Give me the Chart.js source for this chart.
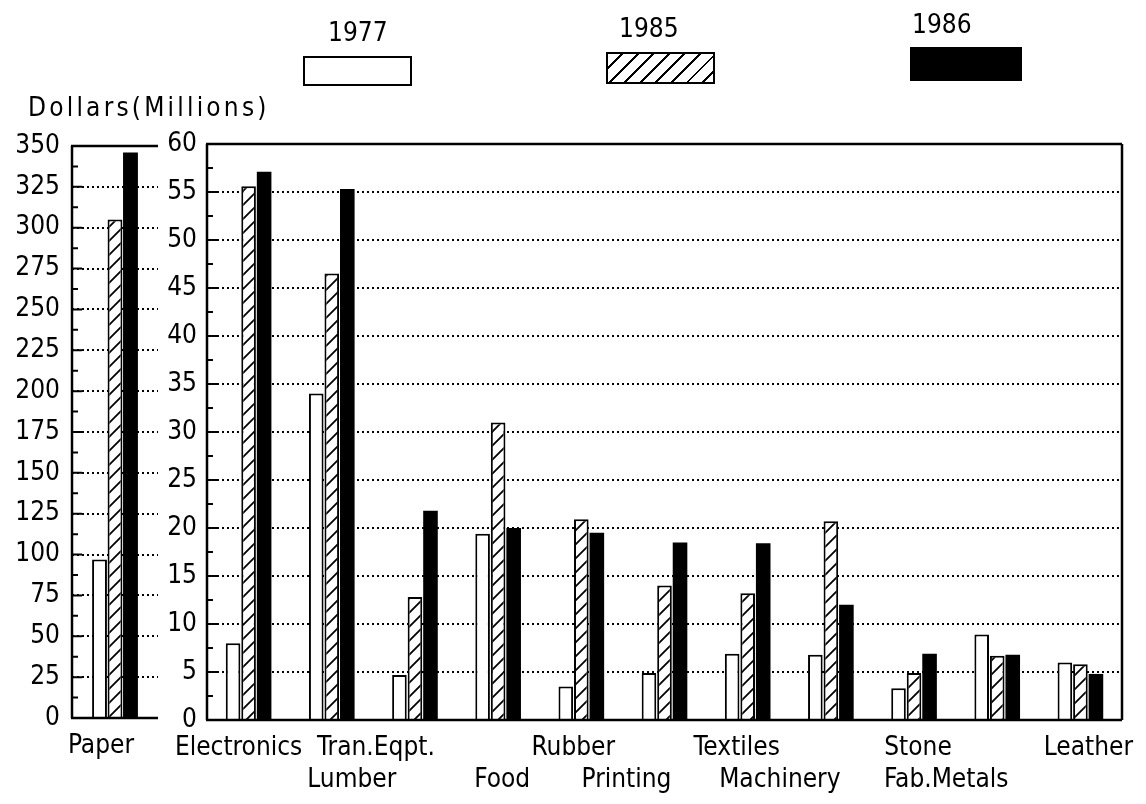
<!DOCTYPE html>
<html>
<head>
<meta charset="utf-8">
<script src="https://cdn.jsdelivr.net/npm/chart.js@4.4.0/dist/chart.umd.min.js"></script>
<style>
  body { margin: 0; background: #fff; }
  #wrap { position: relative; width: 1146px; height: 804px; font-family: "DejaVu Sans Condensed", "DejaVu Sans", sans-serif; color: #000; }
  canvas { position: absolute; left: 0; top: 0; }
  .txt { position: absolute; font-size: 26px; line-height: 30px; white-space: nowrap; }
  .box { position: absolute; border: 2px solid #000; box-sizing: border-box; background: #fff; }
</style>
</head>
<body>
<div id="wrap">
  <canvas id="paperChart" width="1146" height="804"></canvas>
  <canvas id="mainChart" width="1146" height="804"></canvas>

  <div class="txt" style="left:328px;top:17px">1977</div>
  <div class="box" style="left:303px;top:56px;width:109px;height:30px"></div>
  <div class="txt" style="left:619px;top:13px">1985</div>
  <div class="box" style="left:606px;top:52px;width:109px;height:32px;background:repeating-linear-gradient(135deg,#fff 0 9px,#000 9px 11px)"></div>
  <div class="txt" style="left:912px;top:9px">1986</div>
  <div class="box" style="left:910px;top:47px;width:112px;height:34px;background:#000"></div>

  <div class="txt" style="left:28px;top:92px;letter-spacing:3.2px">Dollars(Millions)</div>
</div>

<script>
// values, millions of dollars
const years = ['1977', '1985', '1986'];

const paperLabel = ['Paper'];
const paper1977 = [97];
const paper1985 = [305];
const paper1986 = [346];
const paperMax = 350;
const paperStep = 25;

const industries = ['Electronics', 'Lumber', 'Tran.Eqpt.', 'Food', 'Rubber', 'Printing',
                    'Textiles', 'Machinery', 'Stone', 'Fab.Metals', 'Leather'];
const v1977 = [8.0, 34.0, 4.7, 19.4, 3.5, 4.9, 6.9, 6.8, 3.3, 8.9, 6.0];
const v1985 = [55.6, 46.5, 12.8, 31.0, 20.9, 14.0, 13.2, 20.7, 4.9, 6.7, 5.8];
const v1986 = [57.1, 55.3, 21.8, 20.0, 19.5, 18.5, 18.4, 12.0, 6.9, 6.8, 4.8];
const mainMax = 60;
const mainStep = 5;

const FONT = '"DejaVu Sans Condensed", "DejaVu Sans", sans-serif';

function hatchPattern() {
    const c = document.createElement('canvas');
    c.width = 14; c.height = 14;
    const g = c.getContext('2d');
    g.fillStyle = '#fff';
    g.fillRect(0, 0, 14, 14);
    g.strokeStyle = '#000';
    g.lineWidth = 1.8;
    g.beginPath();
    g.moveTo(0, 14); g.lineTo(14, 0);
    g.moveTo(-2, 2); g.lineTo(2, -2);
    g.moveTo(12, 16); g.lineTo(16, 12);
    g.stroke();
    return g.createPattern(c, 'repeat');
}
const hatch = hatchPattern();

function makeSets(a, b, c) {
    return [
        { label: years[0], data: a, backgroundColor: '#fff', borderColor: '#000', borderWidth: 2 },
        { label: years[1], data: b, backgroundColor: hatch, borderColor: '#000', borderWidth: 2 },
        { label: years[2], data: c, backgroundColor: '#000', borderColor: '#000', borderWidth: 0 }
    ];
}

// frame, small inner ticks and the category names under the axis
function framePlugin(sides, names, nudges, step) {
    return {
        id: 'frame',
        afterDraw(chart) {
            const ctx = chart.ctx;
            const a = chart.chartArea;
            const ys = chart.scales.y;
            const xs = chart.scales.x;
            ctx.save();
            ctx.strokeStyle = '#000';
            ctx.lineWidth = 2.5;
            ctx.beginPath();
            ctx.moveTo(a.left, a.top); ctx.lineTo(a.left, a.bottom);
            ctx.moveTo(a.left - 1, a.top); ctx.lineTo(a.right, a.top);
            ctx.moveTo(a.left - 1, a.bottom); ctx.lineTo(a.right, a.bottom);
            if (sides.right) { ctx.moveTo(a.right, a.top); ctx.lineTo(a.right, a.bottom); }
            ctx.stroke();

            ctx.lineWidth = 2;
            ctx.beginPath();
            for (let v = step / 2; v < ys.max; v += step) {
                const y = ys.getPixelForValue(v);
                ctx.moveTo(a.left, y); ctx.lineTo(a.left + 6, y);
            }
            for (let v = step; v < ys.max; v += step) {
                const y = ys.getPixelForValue(v);
                ctx.moveTo(a.left, y); ctx.lineTo(a.left + 10, y);
            }
            ctx.stroke();

            ctx.fillStyle = '#000';
            ctx.font = '26px ' + FONT;
            ctx.textAlign = 'center';
            ctx.textBaseline = 'middle';
            names.forEach((name, i) => {
                const x = xs.getPixelForValue(i) + nudges[i];
                const y = a.bottom + (i % 2 ? 60 : 28);
                ctx.fillText(name, x, y);
            });
            ctx.restore();
        }
    };
}

function yScale(max, step, width, pad) {
    return {
        min: 0, max: max,
        afterFit(s) { s.width = width; },
        ticks: { stepSize: step, color: '#000', padding: pad, font: { family: FONT, size: 26 } },
        grid: { color: '#000', lineWidth: 2, drawTicks: false },
        border: { display: false, dash: [2, 3] }
    };
}

function xScale() {
    return {
        afterFit(s) { s.height = 84; },
        ticks: { display: false },
        grid: { display: false },
        border: { display: false }
    };
}

const common = {
    responsive: false,
    animation: false,
    events: [],
    plugins: { legend: { display: false }, tooltip: { enabled: false } }
};

new Chart(document.getElementById('paperChart'), {
    type: 'bar',
    data: { labels: paperLabel, datasets: makeSets(paper1977, paper1985, paper1986) },
    options: Object.assign({}, common, {
        layout: { padding: { left: 0, top: 146, right: 1146 - 158, bottom: 2 } },
        datasets: { bar: { categoryPercentage: 0.54, barPercentage: 0.96 } },
        scales: { x: xScale(), y: yScale(paperMax, paperStep, 72, 12) }
    }),
    plugins: [framePlugin({ right: false }, paperLabel, [-14], paperStep)]
});

new Chart(document.getElementById('mainChart'), {
    type: 'bar',
    data: { labels: industries, datasets: makeSets(v1977, v1985, v1986) },
    options: Object.assign({}, common, {
        layout: { padding: { left: 140, top: 144, right: 24, bottom: 0 } },
        datasets: { bar: { categoryPercentage: 0.56, barPercentage: 0.94 } },
        scales: { x: xScale(), y: yScale(mainMax, mainStep, 67, 10) }
    }),
    plugins: [framePlugin({ right: true }, industries,
        [-10, 20, -39, 4, -8, -38, -11, -51, 4, -51, 8], mainStep)]
});
</script>
</body>
</html>
